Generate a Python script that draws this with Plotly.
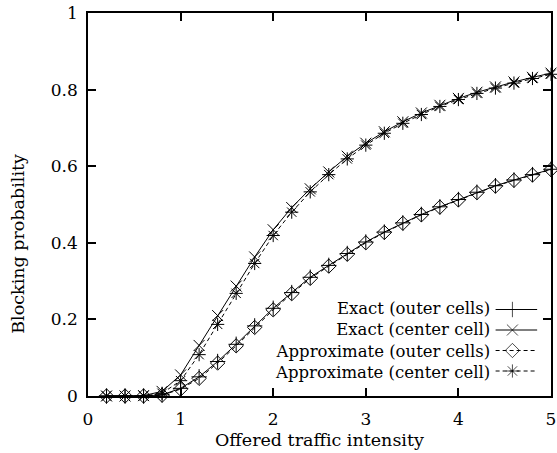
import plotly.graph_objects as go

# Offered traffic intensity (x) and blocking probabilities for each model
traffic = [0.2, 0.4, 0.6, 0.8, 1.0, 1.2, 1.4, 1.6, 1.8, 2.0, 2.2, 2.4, 2.6,
           2.8, 3.0, 3.2, 3.4, 3.6, 3.8, 4.0, 4.2, 4.4, 4.6, 4.8, 5.0]

exact_outer = [0.0, 0.0, 0.0, 0.003, 0.02, 0.05, 0.09, 0.135, 0.183, 0.229,
               0.27, 0.31, 0.341, 0.372, 0.402, 0.428, 0.452, 0.474, 0.494,
               0.513, 0.532, 0.549, 0.564, 0.578, 0.592]
exact_center = [0.0, 0.0, 0.001, 0.012, 0.055, 0.132, 0.21, 0.287, 0.363,
                0.434, 0.492, 0.541, 0.585, 0.626, 0.66, 0.69, 0.716, 0.739,
                0.759, 0.777, 0.793, 0.807, 0.82, 0.832, 0.843]
approx_outer = [0.0, 0.0, 0.0, 0.002, 0.018, 0.046, 0.086, 0.131, 0.179,
                0.225, 0.267, 0.307, 0.339, 0.37, 0.4, 0.427, 0.451, 0.473,
                0.493, 0.512, 0.531, 0.548, 0.563, 0.577, 0.591]
approx_center = [0.0, 0.0, 0.0, 0.007, 0.04, 0.108, 0.187, 0.268, 0.346,
                 0.419, 0.48, 0.533, 0.578, 0.619, 0.655, 0.686, 0.712, 0.735,
                 0.756, 0.774, 0.79, 0.804, 0.817, 0.829, 0.84]

series_names = ["Exact (outer cells)", "Exact (center cell)",
                "Approximate (outer cells)", "Approximate (center cell)"]
series_values = [exact_outer, exact_center, approx_outer, approx_center]
series_symbols = ["cross-thin-open", "x-thin-open", "diamond-open", "asterisk-open"]
series_dash = ["solid", "solid", "4px,3px", "4px,3px"]

x_ticks = [0, 1, 2, 3, 4, 5]
y_ticks = [0, 0.2, 0.4, 0.6, 0.8, 1]
y_tick_text = ["0", "0.2", "0.4", "0.6", "0.8", "1"]

FONT = "DejaVu Serif"
W, H = 557, 453
L, R, T, B = 88, 1, 13, 57
PW, PH = W - L - R, H - T - B


def px_x(p):
    return (p - L) / PW


def px_y(p):
    return (H - B - p) / PH


fig = go.Figure()

for name, vals, sym, dash in zip(series_names, series_values, series_symbols, series_dash):
    fig.add_trace(go.Scatter(
        x=traffic, y=vals, mode="lines+markers", name=name, showlegend=False,
        line=dict(color="black", width=1, dash=dash),
        marker=dict(symbol=sym, size=11, color="black",
                    line=dict(color="black", width=1)),
        cliponaxis=False,
    ))

# Key: text block right-aligned, sample line and marker to the right of each row
key_rows = [309.5, 330, 350.5, 371]
fig.add_annotation(x=px_x(496), y=px_y((key_rows[0] + key_rows[-1]) / 2),
                   xref="paper", yref="paper", text="<br>".join(series_names),
                   showarrow=False, xanchor="right", yanchor="middle", align="right",
                   font=dict(family=FONT, size=16.5, color="black"))
for i, (sym, dash) in enumerate(zip(series_symbols, series_dash)):
    yk = px_y(key_rows[i])
    fig.add_trace(go.Scatter(
        x=[px_x(500), px_x(517), px_x(542)], y=[yk, yk, yk],
        xaxis="x2", yaxis="y2", mode="lines+markers", showlegend=False,
        line=dict(color="black", width=1, dash=dash),
        marker=dict(symbol=sym, size=[0, 11, 0], color="black",
                    line=dict(color="black", width=1)),
        hoverinfo="skip", cliponaxis=False,
    ))

axis_common = dict(
    showline=True, linecolor="black", linewidth=1.5, mirror="ticks",
    ticks="inside", ticklen=8, tickwidth=1.5, tickcolor="black",
    showgrid=False, zeroline=False, ticklabeloverflow="allow",
    tickfont=dict(family=FONT, size=17, color="black"),
)

fig.update_layout(
    width=W, height=H, autosize=False,
    margin=dict(l=L, r=R, t=T, b=B, pad=0),
    paper_bgcolor="white", plot_bgcolor="white",
    showlegend=False,
    xaxis=dict(range=[0, 5], tickvals=x_ticks, ticktext=[str(v) for v in x_ticks],
               ticklabelstandoff=7, **axis_common),
    yaxis=dict(range=[0, 1], tickvals=y_ticks, ticktext=y_tick_text,
               ticklabelstandoff=5, **axis_common),
    xaxis2=dict(range=[0, 1], overlaying="x", visible=False, fixedrange=True),
    yaxis2=dict(range=[0, 1], overlaying="y", visible=False, fixedrange=True),
    annotations=list(fig.layout.annotations) + [
        dict(text="Offered traffic intensity", x=px_x(322), y=px_y(440),
             xref="paper", yref="paper", showarrow=False,
             xanchor="center", yanchor="middle",
             font=dict(family=FONT, size=17.5, color="black")),
        dict(text="Blocking probability", x=px_x(17), y=px_y(244),
             xref="paper", yref="paper", showarrow=False, textangle=-90,
             xanchor="center", yanchor="middle",
             font=dict(family=FONT, size=17.5, color="black")),
    ],
)

fig.write_html("out.html")
